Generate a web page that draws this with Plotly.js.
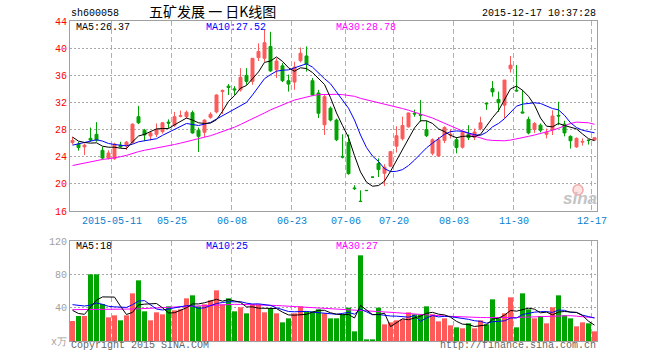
<!DOCTYPE html>
<html><head><meta charset="utf-8">
<script src="https://cdn.plot.ly/plotly-3.0.1.min.js"></script>
<style>html,body{margin:0;padding:0;background:#fff;}#chart{width:660px;height:360px;}</style>
</head><body><div id="chart"></div>
<script>
const tickIndex = [7,17,27,37,46,54,64,74,87];
const tickText = ['2015-05-11','05-25','06-08','06-23','07-06','07-20','08-03','11-30','12-17'];
const open = [26.1,25.85,25.45,26.7,27.3,24.95,23.8,23.7,25.7,25.6,
26.1,29.9,27.9,27.05,27.3,27.7,29.1,28.65,29.95,29.9,
30.5,27.9,27.6,29.8,30.6,33.6,34.4,34.0,33.85,36.0,
35.1,38.6,38.5,40.25,36.8,37.4,35.2,35.0,38.15,38.85,
35.2,33.4,28.7,31.15,29.4,24.05,26.1,19.4,17.45,19.04,
21.0,23.0,21.55,22.6,25.55,26.65,28.4,30.4,30.2,28.0,
24.5,24.1,26.4,27.2,26.5,25.4,27.3,26.85,28.15,31.9,
34.05,32.45,31.6,36.95,33.8,30.6,29.5,28.0,28.65,27.3,
28.0,30.1,28.8,27.0,25.45,26.15,26.45,26.45];
const high = [26.9,26.2,25.95,28.3,29.1,25.45,24.95,26.05,26.2,26.3,
28.9,31.5,28.1,27.7,28.9,29.1,29.5,30.6,30.8,30.8,
30.8,28.3,29.5,30.55,33.2,33.9,34.7,34.4,37.05,37.05,
38.5,40.7,42.7,42.4,38.5,37.8,36.1,38.0,40.1,40.25,
35.6,33.85,33.1,31.4,29.6,27.3,27.25,19.8,19.05,19.05,
21.02,23.75,22.9,24.85,28.5,29.9,30.5,30.95,32.35,29.3,
26.7,26.9,28.5,28.0,26.9,27.8,28.65,28.15,29.9,31.95,
35.15,33.6,35.3,38.85,37.5,33.85,29.9,29.1,28.9,28.15,
30.85,32.1,29.3,27.15,26.85,26.7,26.5,26.85];
const low = [25.8,24.9,24.25,26.2,26.2,23.6,23.6,23.55,25.3,25.0,
25.9,28.8,26.3,26.4,26.9,27.4,28.2,28.4,29.8,29.6,
27.4,24.7,26.9,29.6,30.4,30.3,33.1,33.1,33.6,34.6,
34.6,38.1,38.0,36.5,35.6,35.0,33.6,33.85,37.9,36.55,
33.0,29.7,27.2,29.2,26.3,23.75,21.35,19.1,17.35,19.0,
20.98,21.0,19.7,22.45,24.6,26.4,28.3,29.9,29.15,26.9,
24.2,24.0,26.0,26.7,24.5,25.2,26.45,26.45,27.9,30.9,
32.85,30.6,29.65,36.4,33.6,30.4,27.3,27.5,27.6,26.7,
27.2,28.65,27.0,25.2,25.3,25.65,25.8,26.4];
const close = [26.4,25.35,25.7,26.45,26.45,23.8,24.55,25.85,25.45,26.15,
28.8,29.0,27.2,27.5,28.0,29.0,28.95,29.9,30.05,30.55,
27.5,27.0,29.4,30.25,33.1,33.75,34.2,33.85,35.7,35.1,
38.5,39.5,40.8,36.65,38.1,35.2,34.7,37.2,39.25,37.65,
33.1,30.4,32.85,29.4,26.5,23.95,21.5,19.3,17.4,19.01,
20.99,22.1,22.45,24.75,27.1,28.6,30.45,30.3,30.1,27.1,
26.5,26.5,28.3,27.3,25.35,27.6,26.8,27.65,29.0,31.8,
33.55,31.95,35.3,37.5,33.7,30.45,27.5,28.9,27.9,27.6,
30.0,30.0,27.5,26.35,26.7,26.25,26.4,26.8];
const volume = [24,30,30,80,80,44.4,28.4,30.8,24.8,30.8,
57.2,72.8,35.6,24.8,34.4,32,41.6,36.8,38,51.2,
54.8,41.6,44,48.8,60.8,44,51.2,35.6,40.4,33.2,
44,44,34.4,39.2,33.2,22.4,27.2,33.2,41.6,35.6,
35.6,38,33.2,27.2,27.2,32,40,11.6,102.8,2,
2,40,20,22.4,24.8,26,34.4,32,32,41.6,
32,23.6,27.2,18.8,16.4,15.2,21.2,15.2,24.8,20,
50,27.2,33.2,52.4,16.4,57.2,38,27.2,30,21.2,
40.4,54.8,30.8,27.2,17.6,22.4,21.2,11.6];
const ma5 = [26.9,26.3,26.1,26.0,26.05,25.55,25.4,25.4,25.25,25.2,
26.2,27.05,27.3,27.7,28.1,28.15,28.15,28.7,29.2,29.7,
29.4,29.0,28.9,28.95,29.45,30.7,32.15,33.0,34.1,34.5,
35.5,36.5,37.9,38.1,38.7,38.05,37.1,36.6,37.1,37.0,
36.4,35.45,34.65,32.7,30.45,28.6,26.85,24.15,21.75,20.25,
19.65,19.75,20.4,21.85,23.5,25.0,26.65,28.25,29.3,29.3,
28.9,28.1,27.7,27.15,26.8,27.0,27.05,26.95,27.3,28.55,
29.75,30.8,32.3,34.0,34.4,33.8,32.9,31.6,29.7,28.5,
28.4,28.9,28.6,28.3,28.1,27.35,26.65,26.37];
const ma10 = [25.7,25.9,26.1,26.4,26.5,26.3,25.95,25.8,25.7,25.6,
25.85,26.2,26.35,26.5,26.65,27.15,27.6,28.0,28.45,28.9,
28.75,28.6,28.8,29.05,29.55,30.05,30.55,31.0,31.5,32.0,
33.1,34.3,35.5,36.1,36.6,36.75,36.8,37.1,37.45,37.7,
37.2,36.3,35.5,34.75,33.6,32.45,31.15,29.4,27.2,25.35,
24.1,23.3,22.25,21.8,21.85,22.1,22.7,23.5,24.4,25.3,
26.0,26.7,27.3,27.7,27.8,27.75,27.5,27.25,27.15,27.6,
28.4,28.9,29.6,30.6,31.45,31.75,31.85,31.95,31.85,31.45,
31.1,30.9,30.1,29.0,28.3,27.9,27.75,27.52];
const ma30 = [22.7,22.9,23.1,23.3,23.5,23.6,23.7,23.8,24.0,24.2,
24.5,24.75,24.95,25.1,25.25,25.4,25.6,25.8,26.0,26.2,
26.4,26.6,26.85,27.1,27.4,27.7,28.0,28.35,28.75,29.15,
29.6,30.0,30.45,30.9,31.3,31.7,32.0,32.35,32.6,32.8,
33.0,33.15,33.2,33.2,33.2,33.15,33.05,32.9,32.6,32.4,
32.2,32.0,31.8,31.55,31.3,31.1,30.85,30.6,30.3,30.0,
29.7,29.3,28.9,28.5,28.1,27.75,27.4,27.05,26.75,26.5,
26.4,26.35,26.35,26.45,26.6,26.8,27.0,27.2,27.4,27.65,
27.9,28.2,28.55,28.9,29.1,29.1,29.0,28.78];
const vma5 = [36.8,33,32,40.8,49,52.9,52.6,52.7,41.7,31.8,
34.4,43.3,44.2,44.2,45,39.9,33.7,33.9,36.6,39.9,
44.5,44.5,45.9,48.1,50,47.8,49.8,48.1,46.4,40.9,
40.9,39.4,39.2,39,39,34.6,31.3,31,31.5,32,
34.6,36.8,36.8,33.9,32.2,31.5,31.9,27.6,42.7,37.7,
31.7,31.7,33.4,17.3,21.8,26.6,25.5,27.9,29.8,33.2,
34.4,32.2,31.3,28.6,23.6,20.2,19.8,17.4,18.6,19.3,
26.2,27.4,31,36.6,35.8,37.3,39.4,38.2,33.8,34.7,
31.4,34.7,35.4,34.9,34.2,30.6,23.8,19];
const vma10 = [43.6,43,42,43,45.6,44,41.6,41,40.5,40.3,
43.6,47.9,48.5,43,38.4,37.2,38.5,39.1,40.4,42.4,
42.2,39.1,39.9,42.3,45,46.2,47.1,47,47.2,45.4,
44.4,44.6,43.6,42.7,39.9,37.8,35.4,35.1,35.2,35.5,
34.6,34,33.9,32.7,32.1,33.1,34.4,32.2,38.3,35,
31.6,31.8,30.5,30,29.8,29.2,28.6,30.6,23.6,27.5,
30.5,28.9,29.6,29.2,28.4,27.3,26,24.3,23.6,21.4,
23.2,23.6,24.2,27.6,27.6,31.8,33.4,34.6,35.2,35.3,
34.3,37.1,36.8,34.3,34.4,31,29.3,27.7];
const vma30 = [37.6,37.6,37.6,37.8,38,38.2,38.4,38.4,38.4,38.4,
38.4,38.6,38.8,39.2,39.6,40,40.4,40.8,41.2,41.6,
42.0,42.4,42.8,43.2,43.5,43.8,44,44,43.9,43.8,
43.6,43.5,43.3,43,42.6,42.2,41.8,41.4,41,40.6,
40.2,39.8,39.3,38.8,38.4,38,37.6,37.2,37,36.8,
36.4,36,35.5,34.8,34,33.4,32.8,32.2,31.6,31,
30.6,30.2,29.9,29.6,29.2,28.9,28.6,28.4,28.2,28.1,
28,28,28,28,28.2,28.5,28.8,29,29.2,29.6,
30,30.4,30.8,30.4,29.8,29,28.4,27.8];

const RED = '#ff5a5a', GREEN = '#00a400';
const idx = close.map((_, i) => i);
const volColors = close.map((c, i) => c > open[i] ? RED : GREEN);
const gridX = tickIndex.map(i => i - 0.42);
const MONO = 'Liberation Mono, DejaVu Sans Mono, monospace';

function line(y, color, xa, ya) {
  return {type:'scatter', mode:'lines', x: idx, y: y, xaxis: xa, yaxis: ya,
    line:{color: color, width: 1}, hoverinfo:'skip'};
}

const traces = [
  {type:'candlestick', x: idx, open: open, high: high, low: low, close: close,
   xaxis:'x', yaxis:'y', whiskerwidth: 0,
   increasing:{line:{color:RED, width:1}, fillcolor:RED},
   decreasing:{line:{color:GREEN, width:1}, fillcolor:GREEN}, hoverinfo:'skip'},
  line(ma30, '#ff00ff', 'x', 'y'),
  line(ma10, '#0000ff', 'x', 'y'),
  line(ma5, '#000000', 'x', 'y'),
  {type:'bar', x: idx, y: volume, xaxis:'x2', yaxis:'y2', width: 0.83,
   marker:{color: volColors, line:{width:0}}, hoverinfo:'skip'},
  line(vma30, '#ff00ff', 'x2', 'y2'),
  line(vma10, '#0000ff', 'x2', 'y2'),
  line(vma5, '#000000', 'x2', 'y2')
];

const xBase = {range:[-0.4167, 87.4167], tickmode:'array', tickvals: gridX, ticktext: tickText,
  showgrid:true, gridcolor:'#b0b0b0', griddash:'5px,3px', gridwidth:1, zeroline:false,
  showline:true, mirror:true, linecolor:'#a0a0a0', linewidth:1, ticks:'',
  fixedrange:true};

function note(text, x, y, xanchor, color, size, family) {
  return {text: text, xref:'paper', yref:'paper', x: x, y: y, xanchor: xanchor, yanchor:'middle',
    showarrow:false, borderpad:0, font:{family: family || MONO, size: size || 10, color: color}};
}

const layout = {
  width:660, height:360, margin:{l:70, r:63, t:21, b:19},
  paper_bgcolor:'#fff', plot_bgcolor:'#fff', showlegend:false, hovermode:false,
  font:{family: MONO, size:10, color:'#000'},
  xaxis: Object.assign({}, xBase, {anchor:'y', rangeslider:{visible:false},
    tickfont:{family: MONO, size:10, color:'#0a80d0'}}),
  xaxis2: Object.assign({}, xBase, {anchor:'y2', matches:'x', showticklabels:false}),
  yaxis: {domain:[0.40625, 1], range:[16, 44], tickvals:[16,20,24,28,32,36,40,44],
    showgrid:true, gridcolor:'#a8a8a8', griddash:'2px,2px', zeroline:false,
    showline:true, mirror:true, linecolor:'#a0a0a0', ticks:'',
    tickfont:{family: MONO, size:10, color:'#ff0000'}, fixedrange:true},
  yaxis2: {domain:[0, 0.3125], range:[0, 120], tickvals:[0,40,80,120],
    ticktext:['x万','40','80','120'],
    showgrid:true, gridcolor:'#a8a8a8', griddash:'2px,2px', zeroline:false,
    showline:true, mirror:true, linecolor:'#a0a0a0', ticks:'',
    tickfont:{family: MONO, size:10, color:'#a0a0a0'}, fixedrange:true},
  annotations: [
    note('sh600058', 0, 1.025, 'left', '#000'),
    note('五矿发展 一 日K线图', 0.2713, 1.03, 'center', '#000', 14, 'Noto Sans CJK SC'),
    note('2015-12-17 10:37:28', 1, 1.025, 'right', '#000'),
    note('MA5:26.37', 0.0095, 0.981, 'left', '#000'),
    note('MA10:27.52', 0.256, 0.981, 'left', '#0000ff'),
    note('MA30:28.78', 0.503, 0.981, 'left', '#ff00ff'),
    note('MA5:18', 0.0095, 0.2953, 'left', '#000'),
    note('MA10:25', 0.256, 0.2953, 'left', '#0000ff'),
    note('MA30:27', 0.503, 0.2953, 'left', '#ff00ff'),
    note('Copyright 2015 SINA.COM', 0, -0.0156, 'left', '#666'),
    note('http://finance.sina.com.cn', 1, -0.0156, 'right', '#666'),
    note('<b><i>sina</i></b>', 0.968, 0.445, 'center', '#c4c4c4', 17, 'Liberation Sans, Arial, sans-serif')
  ],
  shapes: [
    {type:'circle', xref:'paper', yref:'paper', x0:0.9545, x1:0.9735, y0:0.456, y1:0.488,
     line:{color:'#f2a8a8', width:1.5}, fillcolor:'rgba(255,190,190,0.45)'}
  ]
};

Plotly.newPlot('chart', traces, layout, {staticPlot:true, displayModeBar:false});
</script>
</body></html>
